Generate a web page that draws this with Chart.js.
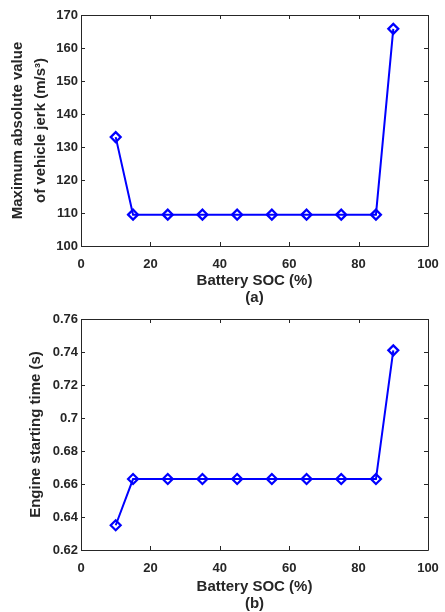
<!DOCTYPE html>
<html>
<head>
<meta charset="utf-8">
<script src="https://cdn.jsdelivr.net/npm/chart.js@4.4.0/dist/chart.umd.min.js"></script>
<style>
  body { margin: 0; background: #fff; }
  #wrap { position: relative; width: 445px; height: 612px; }
  canvas { position: absolute; left: 0; }
</style>
</head>
<body>
<div id="wrap">
  <canvas id="jerk" width="445" height="306" style="top:0"></canvas>
  <canvas id="start" width="445" height="306" style="top:306px"></canvas>
</div>
<script>
// battery SOC (%)
const soc = [10, 15, 25, 35, 45, 55, 65, 75, 85, 90];
// max |jerk| (m/s^3)
const jerkVals = [133, 109.5, 109.5, 109.5, 109.5, 109.5, 109.5, 109.5, 109.5, 165.8];
// engine starting time (s)
const startVals = [0.635, 0.663, 0.663, 0.663, 0.663, 0.663, 0.663, 0.663, 0.663, 0.741];

const xTicks = [0, 20, 40, 60, 80, 100];
const jerkTicks = [100, 110, 120, 130, 140, 150, 160, 170];
const startTicks = [0.62, 0.64, 0.66, 0.68, 0.7, 0.72, 0.74, 0.76];

const INK = '#262626';
Chart.defaults.font.family = '"Liberation Sans", Arial, sans-serif';
Chart.defaults.font.weight = 'bold';
Chart.defaults.color = INK;

// matlab style box with inward ticks
const boxTicks = {
    id: 'boxTicks',
    afterDraw(chart) {
        const {ctx, chartArea: a, scales} = chart;
        const len = 4;
        ctx.save();
        ctx.strokeStyle = INK;
        ctx.lineWidth = 1;
        ctx.beginPath();
        ctx.rect(a.left + 0.5, a.top + 0.5, a.right - a.left, a.bottom - a.top);
        scales.x.ticks.forEach(t => {
            let px = Math.round(scales.x.getPixelForValue(t.value)) + 0.5;
            ctx.moveTo(px, a.bottom); ctx.lineTo(px, a.bottom - len);
            ctx.moveTo(px, a.top); ctx.lineTo(px, a.top + len);
        });
        scales.y.ticks.forEach(t => {
            let py = Math.round(scales.y.getPixelForValue(t.value)) + 0.5;
            ctx.moveTo(a.left, py); ctx.lineTo(a.left + len, py);
            ctx.moveTo(a.right, py); ctx.lineTo(a.right - len, py);
        });
        ctx.stroke();
        ctx.restore();
    }
};

function makeChart(id, values, yTicks, yTitle, titleLH, titlePad, sub, padTop, xHeight) {
    const pts = soc.map((x, i) => ({x: x, y: values[i]}));
    return new Chart(document.getElementById(id), {
        type: 'line',
        data: { datasets: [{
            data: pts,
            borderColor: '#0000ff',
            borderWidth: 2,
            pointStyle: 'rectRot',
            pointRadius: 5,
            pointBorderWidth: 2.2,
            pointBorderColor: '#0000ff',
            pointBackgroundColor: 'rgba(0,0,0,0)',
            tension: 0
        }]},
        options: {
            responsive: false,
            animation: false,
            events: [],
            layout: { padding: { top: padTop, right: 17, left: 0, bottom: 0 } },
            plugins: { legend: { display: false }, tooltip: { enabled: false } },
            scales: {
                x: {
                    type: 'linear', min: 0, max: 100,
                    afterBuildTicks: s => { s.ticks = xTicks.map(v => ({value: v})); },
                    afterFit: s => { s.height = xHeight; s.paddingLeft = 0; s.paddingRight = 0; },
                    grid: { display: false, drawTicks: false },
                    border: { display: false },
                    ticks: { font: { size: 13 }, padding: 11, maxRotation: 0 },
                    title: { display: true, text: ['Battery SOC (%)', sub],
                             font: { size: 15, lineHeight: '17px' }, padding: 0 }
                },
                y: {
                    min: yTicks[0], max: yTicks[yTicks.length - 1],
                    afterBuildTicks: s => { s.ticks = yTicks.map(v => ({value: v})); },
                    afterFit: s => { s.width = 81; s.paddingTop = 0; s.paddingBottom = 0; },
                    grid: { display: false, drawTicks: false },
                    border: { display: false },
                    ticks: { font: { size: 13 }, padding: 3,
                             callback: v => String(+v.toFixed(2)) },
                    title: { display: true, text: yTitle,
                             font: { size: 15, lineHeight: titleLH + 'px' },
                             padding: { top: titlePad, bottom: 0 } }
                }
            }
        },
        plugins: [boxTicks]
    });
}

makeChart('jerk', jerkVals, jerkTicks,
    ['Maximum absolute value', 'of vehicle jerk (m/s\u00b3)'], 23, 6, '(a)', 15, 60);
makeChart('start', startVals, startTicks,
    'Engine starting time (s)', 17, 27, '(b)', 13, 62);
</script>
</body>
</html>
